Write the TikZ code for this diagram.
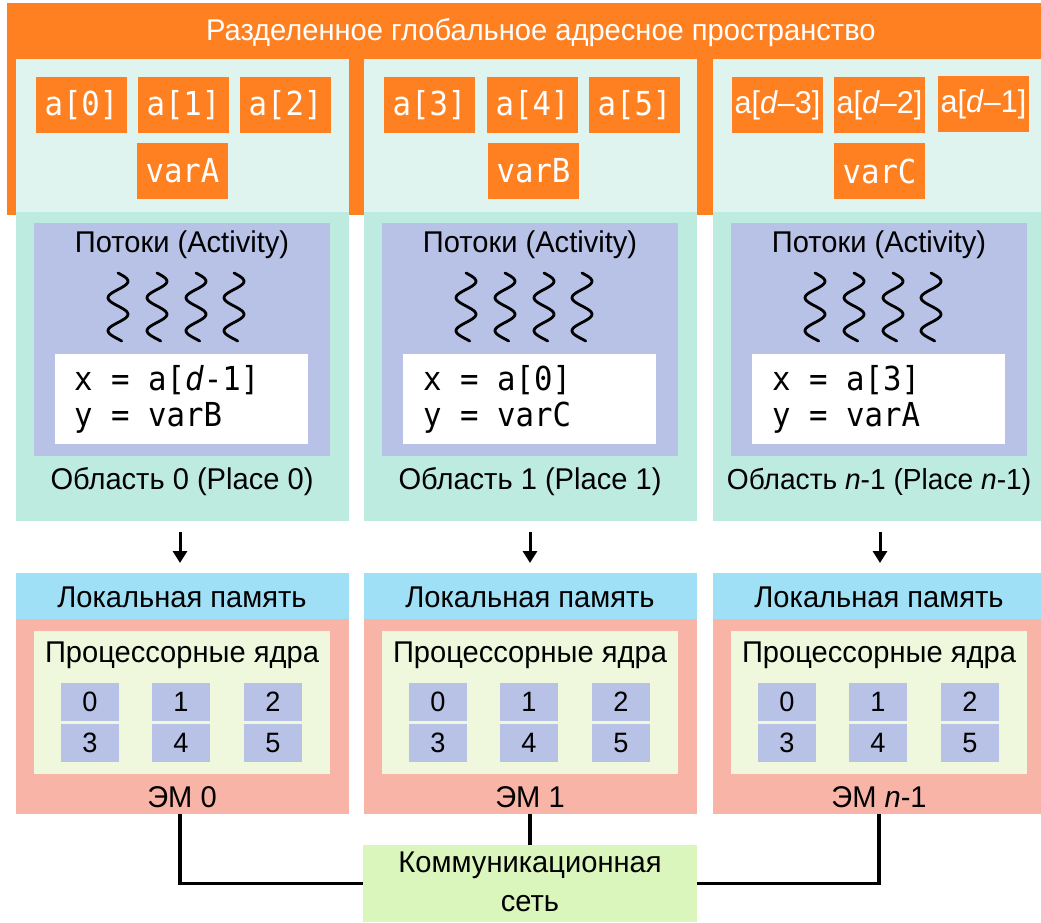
\documentclass[tikz,border=0pt]{standalone}
\usepackage{fontspec}
\setmainfont{Liberation Sans}[FakeStretch=0.97]
\newfontfamily\codefont{DejaVu Sans Mono}[FakeStretch=0.93]
\usetikzlibrary{arrows.meta}
\definecolor{orng}{HTML}{FF8020}
\definecolor{tealL}{HTML}{DFF4EE}
\definecolor{tealD}{HTML}{BEEBDF}
\definecolor{purp}{HTML}{B8C1E6}
\definecolor{blu}{HTML}{A0E0F7}
\definecolor{salm}{HTML}{F9B4A8}
\definecolor{lgreen}{HTML}{EFF8DD}
\definecolor{ngreen}{HTML}{DAF6BC}
\tikzset{
  box/.style={inner sep=0pt, outer sep=0pt, anchor=north west, draw=none},
  colbox/.style={box, minimum width=333pt},
  innerbox/.style={box, minimum width=296pt},
  abox/.style={box, fill=orng, minimum width=91pt, minimum height=56pt, text=white},
  monoa/.style={font=\codefont\fontsize{33}{36}\selectfont},
  propa/.style={font=\fontsize{31.5}{34}\selectfont},
  core/.style={box, fill=purp, minimum width=58pt, minimum height=38pt, font=\fontsize{28}{30}\selectfont},
  lbl/.style={inner sep=0pt, font=\fontsize{30}{34}\selectfont},
  code/.style={inner sep=0pt, anchor=west, align=left, font=\codefont\fontsize{33}{36}\selectfont},
  wave/.style={line width=2.8pt, line cap=round},
  arr/.style={line width=3pt, -{Triangle[length=12pt,width=14pt]}, shorten <=11pt, shorten >=10pt},
  conn/.style={line width=3.2pt},
}
\begin{document}
\begin{tikzpicture}[x=1pt,y=-1pt]
\useasboundingbox (0,0) rectangle (1041,922);
% global address space
\node[box, fill=orng, minimum width=1034pt, minimum height=212pt] (glob) at (7,3) {};
\node[lbl, text=white] (title) at (541,33) {Разделенное глобальное адресное пространство};

% ---------- column 0 ----------
\node[colbox, fill=tealL, minimum height=153pt] (top0) at (16,59) {};
\node[colbox, fill=tealD, minimum height=309pt] (bot0) at (16,212) {};
\node[abox, monoa] (a0) at (36,77) {a[0]};
\node[abox, monoa] (a1) at (138,77) {a[1]};
\node[abox, monoa] (a2) at (240,77) {a[2]};
\node[abox, monoa] (vA) at (137,143) {varA};
\node[innerbox, fill=purp, minimum height=233pt] (th0) at (34,223) {};
\node[lbl] (tht0) at (182,245) {Потоки (Activity)};
\foreach \c in {118,157,196,234}
  \draw[wave] plot[domain=0:68, samples=50, smooth] ({\c+10*sin(10.909*\x)},{273+\x});
\node[box, fill=white, minimum width=253pt, minimum height=90pt] (wb0) at (55,354) {};
\node[code] (cd0) at (74,399) {x = a[\textit{d}-1]\\y = varB};
\node[lbl] (pl0) at (182,482) {Область 0 (Place 0)};
\node[colbox, fill=blu, minimum height=46pt] (mem0) at (16,573) {};
\node[lbl] (memt0) at (182,597) {Локальная память};
\node[colbox, fill=salm, minimum height=195pt] (em0) at (16,619) {};
\node[innerbox, fill=lgreen, minimum height=143pt] (pc0) at (34,631) {};
\node[lbl] (pct0) at (182,655) {Процессорные ядра};
\node[core] (c00) at (61,683) {0};
\node[core] (c01) at (152,683) {1};
\node[core] (c02) at (244,683) {2};
\node[core] (c03) at (61,724) {3};
\node[core] (c04) at (152,724) {4};
\node[core] (c05) at (244,724) {5};
\node[lbl] (emt0) at (182,797) {ЭМ 0};

% ---------- column 1 ----------
\node[colbox, fill=tealL, minimum height=153pt] (top1) at (364,59) {};
\node[colbox, fill=tealD, minimum height=309pt] (bot1) at (364,212) {};
\node[abox, monoa] (a3) at (384,77) {a[3]};
\node[abox, monoa] (a4) at (487,77) {a[4]};
\node[abox, monoa] (a5) at (589,77) {a[5]};
\node[abox, monoa] (vB) at (488,143) {varB};
\node[innerbox, fill=purp, minimum height=233pt] (th1) at (382,223) {};
\node[lbl] (tht1) at (530,245) {Потоки (Activity)};
\foreach \c in {466,505,544,582}
  \draw[wave] plot[domain=0:68, samples=50, smooth] ({\c+10*sin(10.909*\x)},{273+\x});
\node[box, fill=white, minimum width=253pt, minimum height=90pt] (wb1) at (403,354) {};
\node[code] (cd1) at (423,399) {x = a[0]\\y = varC};
\node[lbl] (pl1) at (530,482) {Область 1 (Place 1)};
\node[colbox, fill=blu, minimum height=46pt] (mem1) at (364,573) {};
\node[lbl] (memt1) at (530,597) {Локальная память};
\node[colbox, fill=salm, minimum height=195pt] (em1) at (364,619) {};
\node[innerbox, fill=lgreen, minimum height=143pt] (pc1) at (382,631) {};
\node[lbl] (pct1) at (530,655) {Процессорные ядра};
\node[core] (c10) at (409,683) {0};
\node[core] (c11) at (500,683) {1};
\node[core] (c12) at (592,683) {2};
\node[core] (c13) at (409,724) {3};
\node[core] (c14) at (500,724) {4};
\node[core] (c15) at (592,724) {5};
\node[lbl] (emt1) at (530,797) {ЭМ 1};

% ---------- column 2 ----------
\node[box, fill=tealL, minimum width=328pt, minimum height=153pt] (top2) at (713,59) {};
\node[box, fill=tealD, minimum width=328pt, minimum height=309pt] (bot2) at (713,212) {};
\node[abox, propa] (ad3) at (732,77) {a[\textit{d}–3]};
\node[abox, propa] (ad2) at (834,77) {a[\textit{d}–2]};
\node[abox, propa] (ad1) at (938,76) {a[\textit{d}–1]};
\node[abox, monoa] (vC) at (834,143) {varC};
\node[innerbox, fill=purp, minimum height=233pt] (th2) at (731,223) {};
\node[lbl] (tht2) at (879,245) {Потоки (Activity)};
\foreach \c in {815,854,893,931}
  \draw[wave] plot[domain=0:68, samples=50, smooth] ({\c+10*sin(10.909*\x)},{273+\x});
\node[box, fill=white, minimum width=253pt, minimum height=90pt] (wb2) at (752,354) {};
\node[code] (cd2) at (772,399) {x = a[3]\\y = varA};
\node[lbl, font=\fontsize{29}{34}\selectfont] (pl2) at (879,482) {Область \textit{n}-1 (Place \textit{n}-1)};
\node[box, fill=blu, minimum width=328pt, minimum height=46pt] (mem2) at (713,573) {};
\node[lbl] (memt2) at (879,597) {Локальная память};
\node[box, fill=salm, minimum width=328pt, minimum height=195pt] (em2) at (713,619) {};
\node[innerbox, fill=lgreen, minimum height=143pt] (pc2) at (731,631) {};
\node[lbl] (pct2) at (879,655) {Процессорные ядра};
\node[core] (c20) at (758,683) {0};
\node[core] (c21) at (849,683) {1};
\node[core] (c22) at (941,683) {2};
\node[core] (c23) at (758,724) {3};
\node[core] (c24) at (849,724) {4};
\node[core] (c25) at (941,724) {5};
\node[lbl] (emt2) at (879,797) {ЭМ \textit{n}-1};

% arrows place -> memory
\coordinate (p0) at (180,521); \coordinate (m0) at (180,573);
\coordinate (p1) at (530,521); \coordinate (m1) at (530,573);
\coordinate (p2) at (880,521); \coordinate (m2) at (880,573);
\draw[arr] (p0) -- (m0);
\draw[arr] (p1) -- (m1);
\draw[arr] (p2) -- (m2);

% network
\node[box, fill=ngreen, minimum width=334pt, minimum height=77pt] (net) at (363,845) {};
\node[lbl] (nett1) at (530,865) {Коммуникационная};
\node[lbl] (nett2) at (530,904) {сеть};
\coordinate (e0) at (180,814);
\coordinate (e1) at (530,814);
\coordinate (e2) at (879,814);
\draw[conn] (e0) |- (net.west);
\draw[conn] (e1) -- (net.north -| e1);
\draw[conn] (net.east) -| (e2);
\end{tikzpicture}
\end{document}
